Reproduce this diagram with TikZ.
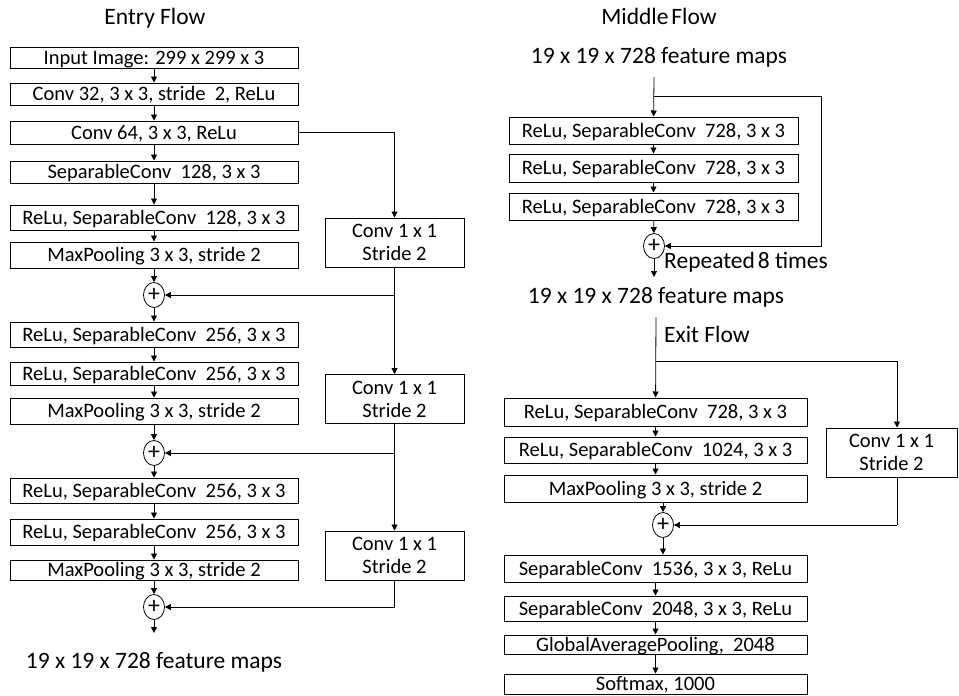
\documentclass[tikz,border=0pt]{standalone}
\usepackage{fontspec}
\setmainfont{Carlito}
\usetikzlibrary{arrows.meta,shapes.geometric,calc}
\begin{document}
\begin{tikzpicture}[x=1pt,y=-1pt,
  box/.style={draw,line width=1pt,inner sep=0pt,font=\fontsize{20.5}{23}\selectfont,text height=16pt,text depth=3pt},
  lbox/.style={box,minimum width=288pt},
  mbox/.style={box,minimum width=289pt},
  ebox/.style={box,minimum width=303pt},
  cbox/.style={draw,line width=1pt,inner sep=0pt,font=\fontsize{20.5}{23}\selectfont,align=center,minimum width=139pt,minimum height=49pt},
  plus/.style={draw,line width=0.8pt,ellipse,minimum width=21pt,minimum height=25pt,inner sep=0pt,font=\fontsize{24}{24}\selectfont},
  lbl/.style={inner sep=0pt,font=\fontsize{23.5}{26}\selectfont},
  arr/.style={-{Triangle[length=6pt,width=6pt]},line width=0.8pt},
  ln/.style={line width=0.8pt}]
\useasboundingbox (0,0) rectangle (959,696);

% ---------------- Entry flow ----------------
\node[lbl] (tentry) at (155,18) {Entry Flow};
\node[lbox,minimum height=21pt] (b1) at (154,57.5) {Input Image: 299 x 299 x 3};
\node[lbox,minimum height=22pt] (b2) at (154,94) {Conv 32, 3 x 3, stride\ \ 2, ReLu};
\node[lbox,minimum height=23pt] (b3) at (154,132.5) {Conv 64, 3 x 3, ReLu};
\node[lbox,minimum height=22pt] (b4) at (154,172) {SeparableConv\ \ 128, 3 x 3};
\node[lbox,minimum height=25pt] (b5) at (154,217.5) {ReLu, SeparableConv\ \ 128, 3 x 3};
\node[lbox,minimum height=26pt] (b6) at (154,255) {MaxPooling 3 x 3, stride 2};
\node[plus] (p1) at (154,295) {+};
\node[lbox,minimum height=25pt] (b7) at (154,334.5) {ReLu, SeparableConv\ \ 256, 3 x 3};
\node[lbox,minimum height=23pt] (b8) at (154,373.5) {ReLu, SeparableConv\ \ 256, 3 x 3};
\node[lbox,minimum height=26pt] (b9) at (154,411) {MaxPooling 3 x 3, stride 2};
\node[plus] (p2) at (154,453) {+};
\node[lbox,minimum height=25pt] (b10) at (154,490.5) {ReLu, SeparableConv\ \ 256, 3 x 3};
\node[lbox,minimum height=26pt] (b11) at (154,532) {ReLu, SeparableConv\ \ 256, 3 x 3};
\node[lbox,minimum height=20pt] (b12) at (154,570) {MaxPooling 3 x 3, stride 2};
\node[plus] (p3) at (154,607) {+};
\coordinate (p3out) at (154,633);
\node[lbl] (fm1) at (154,662) {19 x 19 x 728 feature maps};

\node[cbox] (c1) at (394.5,242.5) {Conv 1 x 1\\Stride 2};
\node[cbox] (c2) at (394.5,399) {Conv 1 x 1\\Stride 2};
\node[cbox] (c3) at (394.5,555.5) {Conv 1 x 1\\Stride 2};

\draw[arr] (b1) -- (b2);
\draw[arr] (b2) -- (b3);
\draw[arr] (b3) -- (b4);
\draw[arr] (b4) -- (b5);
\draw[arr] (b5) -- (b6);
\draw[arr] (b6) -- (p1);
\draw[arr] (p1) -- (b7);
\draw[arr] (b7) -- (b8);
\draw[arr] (b8) -- (b9);
\draw[arr] (b9) -- (p2);
\draw[arr] (p2) -- (b10);
\draw[arr] (b10) -- (b11);
\draw[arr] (b11) -- (b12);
\draw[arr] (b12) -- (p3);
\draw[arr] (p3) -- (p3out);

\draw[arr] (b3.east) -| (c1.north);
\coordinate (j1) at (c1.south |- p1);
\coordinate (j2) at (c2.south |- p2);
\coordinate (j3) at (c3.south |- p3);
\draw[ln] (c1.south) -- (j1);
\draw[arr] (j1) -- (p1);
\draw[arr] (j1) -- (c2.north);
\draw[ln] (c2.south) -- (j2);
\draw[arr] (j2) -- (p2);
\draw[arr] (j2) -- (c3.north);
\draw[ln] (c3.south) -- (j3);
\draw[arr] (j3) -- (p3);

% ---------------- Middle flow ----------------
\node[lbl] (tmid) at (659,16) {Middle\hspace{0.12em}Flow};
\node[lbl] (fm2) at (659,57) {19 x 19 x 728 feature maps};
\coordinate (mtop) at (654,77);
\coordinate (mj) at (654,96);
\coordinate (mr) at (821,96);
\node[mbox,minimum height=27pt] (m1) at (653.5,130.5) {ReLu, SeparableConv\ \ 728, 3 x 3};
\node[mbox,minimum height=28pt] (m2) at (653.5,168) {ReLu, SeparableConv\ \ 728, 3 x 3};
\node[mbox,minimum height=27pt] (m3) at (653.5,206.5) {ReLu, SeparableConv\ \ 728, 3 x 3};
\node[plus] (pm) at (654,246) {+};
\node[lbl,anchor=west] (rep) at (664,262) {Repeated\hspace{0.12em}8 times};
\coordinate (pmout) at (654,277);
\node[lbl] (fm3) at (656,297) {19 x 19 x 728 feature maps};

\draw[arr] (mtop) -- (m1);
\draw[arr] (m1) -- (m2);
\draw[arr] (m2) -- (m3);
\draw[arr] (m3) -- (pm);
\draw[ln] (mj) -- (mr);
\draw[arr] (mr) |- (pm);
\draw[arr] (pm) -- (pmout);

% ---------------- Exit flow ----------------
\coordinate (etop) at (656,317);
\coordinate (ej) at (656,361);
\coordinate (ejr) at (897,361);
\node[lbl,anchor=west] (texit) at (664,334) {Exit Flow};
\node[ebox,minimum height=28pt] (e1) at (655.5,412) {ReLu, SeparableConv\ \ 728, 3 x 3};
\node[ebox,minimum height=26pt] (e2) at (655.5,450) {ReLu, SeparableConv\ \ 1024, 3 x 3};
\node[ebox,minimum height=27pt] (e3) at (655.5,488.5) {MaxPooling 3 x 3, stride 2};
\node[plus] (pe) at (663,525) {+};
\node[ebox,minimum height=27pt] (e4) at (655.5,568.5) {SeparableConv\ \ 1536, 3 x 3, ReLu};
\node[ebox,minimum height=25pt] (e5) at (655.5,608.5) {SeparableConv\ \ 2048, 3 x 3, ReLu};
\node[ebox,minimum height=19pt] (gap) at (655.5,644.5) {GlobalAveragePooling,\ \ 2048};
\node[ebox,minimum height=20pt] (sm) at (655.5,684) {Softmax, 1000};
\node[cbox,minimum width=131pt] (ce) at (891.5,452.5) {Conv 1 x 1\\Stride 2};

\draw[arr] (etop) -- (e1);
\draw[ln] (ej) -- (ejr);
\draw[arr] (ejr) -- (ejr |- ce.north);
\draw[arr] (e1) -- (e2);
\draw[arr] (e2) -- (e3);
\draw[arr] (e3.south -| pe) -- (pe);
\draw[arr] (pe) -- (pe |- e4.north);
\draw[ln] (ejr |- ce.south) -- (ejr |- pe);
\draw[arr] (ejr |- pe) -- (pe);
\draw[arr] (e4) -- (e5);
\draw[arr] (e5) -- (gap);
\draw[arr] (gap) -- (sm);
\end{tikzpicture}
\end{document}
